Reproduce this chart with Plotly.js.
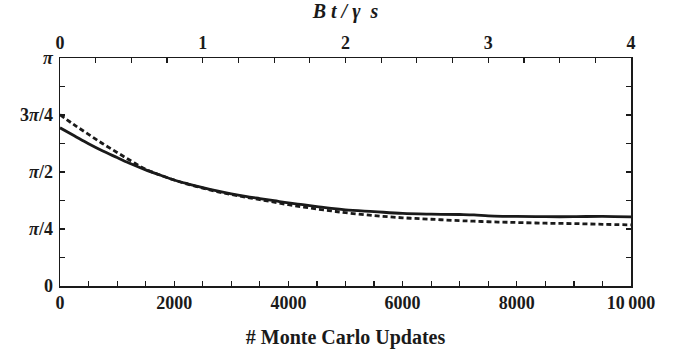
<!DOCTYPE html>
<html>
<head>
<meta charset="utf-8">
<script src="https://cdn.plot.ly/plotly-3.0.1.min.js"></script>
<style>html,body{margin:0;padding:0;background:#fff;}#chart{width:689px;height:355px;}</style>
</head>
<body>
<div id="chart"></div>
<script>
// Monte Carlo updates (bottom axis)
const updates = [0, 250, 500, 750, 1000, 1250, 1500, 1750, 2000, 2250, 2500, 2750, 3000, 3250, 3500, 3750, 4000, 4250, 4500, 4750, 5000, 5500, 6000, 6500, 7000, 7250, 7500, 7750, 8000, 8500, 9000, 9500, 10000];
// solid curve
const solidAngle = [2.18, 2.07, 1.96, 1.86, 1.77, 1.68, 1.60, 1.53, 1.46, 1.405, 1.355, 1.31, 1.27, 1.235, 1.205, 1.175, 1.145, 1.12, 1.095, 1.07, 1.05, 1.025, 1.00, 0.99, 0.985, 0.98, 0.965, 0.96, 0.96, 0.955, 0.955, 0.96, 0.953];
// dashed curve
const dashedAngle = [2.36, 2.22, 2.09, 1.96, 1.84, 1.72, 1.61, 1.53, 1.46, 1.40, 1.35, 1.30, 1.26, 1.225, 1.19, 1.155, 1.12, 1.09, 1.06, 1.035, 1.01, 0.97, 0.94, 0.92, 0.90, 0.893, 0.885, 0.88, 0.875, 0.865, 0.86, 0.85, 0.842];
// axis ticks
const yTickVals = [0, Math.PI/4, Math.PI/2, 3*Math.PI/4, Math.PI];
const yTickText = ["0", "<i>π</i>/4", "<i>π</i>/2", "3<i>π</i>/4", "<i>π</i>"];
const xTickVals = [0, 2000, 4000, 6000, 8000, 10000];
const xTickText = ["0", "2000", "4000", "6000", "8000", "10\u2009000"];
const topTickVals = [0, 1, 2, 3, 4];

const ink = '#1a1a1a';
const font = {family: '"Liberation Serif", "Times New Roman", serif', size: 18, color: ink, weight: 'bold'};
const titleFont = {family: '"Liberation Serif", "Times New Roman", serif', size: 20, color: ink, weight: 'bold'};

const traces = [
  {x: updates, y: solidAngle, type: 'scatter', mode: 'lines', line: {color: ink, width: 2.8, shape: 'spline'}, hoverinfo: 'skip', showlegend: false},
  {x: updates, y: dashedAngle, type: 'scatter', mode: 'lines', line: {color: ink, width: 2.8, dash: '5px,3px', shape: 'spline'}, hoverinfo: 'skip', showlegend: false},
  {x: [topTickVals[0], topTickVals[topTickVals.length-1]], y: [0, 0], xaxis: 'x2', type: 'scatter', mode: 'lines', line: {width: 0}, opacity: 0, hoverinfo: 'skip', showlegend: false}
];

const layout = {
  width: 689, height: 355,
  margin: {l: 60, r: 58, t: 58, b: 69},
  paper_bgcolor: '#fff', plot_bgcolor: '#fff',
  font: font,
  xaxis: {
    range: [0, 10000], tickmode: 'array', tickvals: xTickVals, ticktext: xTickText,
    ticks: 'inside', ticklen: 5, tickwidth: 1.2, tickcolor: ink,
    minor: {tickmode: 'linear', tick0: 0, dtick: 500, ticks: 'inside', ticklen: 5, tickwidth: 1.2, tickcolor: ink},
    showline: true, linecolor: ink, linewidth: 1.5, mirror: false, showgrid: false, zeroline: false,
    tickfont: font,
    title: {text: '<b>#\u00a0Monte Carlo\u00a0Updates</b>', font: titleFont, standoff: 18}
  },
  xaxis2: {
    overlaying: 'x', side: 'top', range: [0, 4], tickmode: 'array', tickvals: topTickVals,
    ticks: 'inside', ticklen: 5, tickwidth: 1.2, tickcolor: ink,
    minor: {tickmode: 'linear', tick0: 0, dtick: 0.25, ticks: 'inside', ticklen: 5, tickwidth: 1.2, tickcolor: ink},
    showline: true, linecolor: ink, linewidth: 1.5, showgrid: false, zeroline: false,
    tickfont: font,
    title: {text: '<b><i>B\u00a0t\u00a0/\u00a0γ\u00a0\u00a0s</i></b>', font: titleFont, standoff: 12}
  },
  yaxis: {
    range: [0, Math.PI], tickmode: 'array', tickvals: yTickVals, ticktext: yTickText,
    ticks: 'inside', ticklen: 5, tickwidth: 1.2, tickcolor: ink,
    minor: {tickmode: 'linear', tick0: 0, dtick: Math.PI/8, ticks: 'inside', ticklen: 5, tickwidth: 1.2, tickcolor: ink},
    showline: true, linecolor: ink, linewidth: 1.5, mirror: 'ticks', showgrid: false, zeroline: false,
    tickfont: font, ticklabelstandoff: 2
  }
};

Plotly.newPlot('chart', traces, layout, {staticPlot: true, displayModeBar: false});
</script>
</body>
</html>
